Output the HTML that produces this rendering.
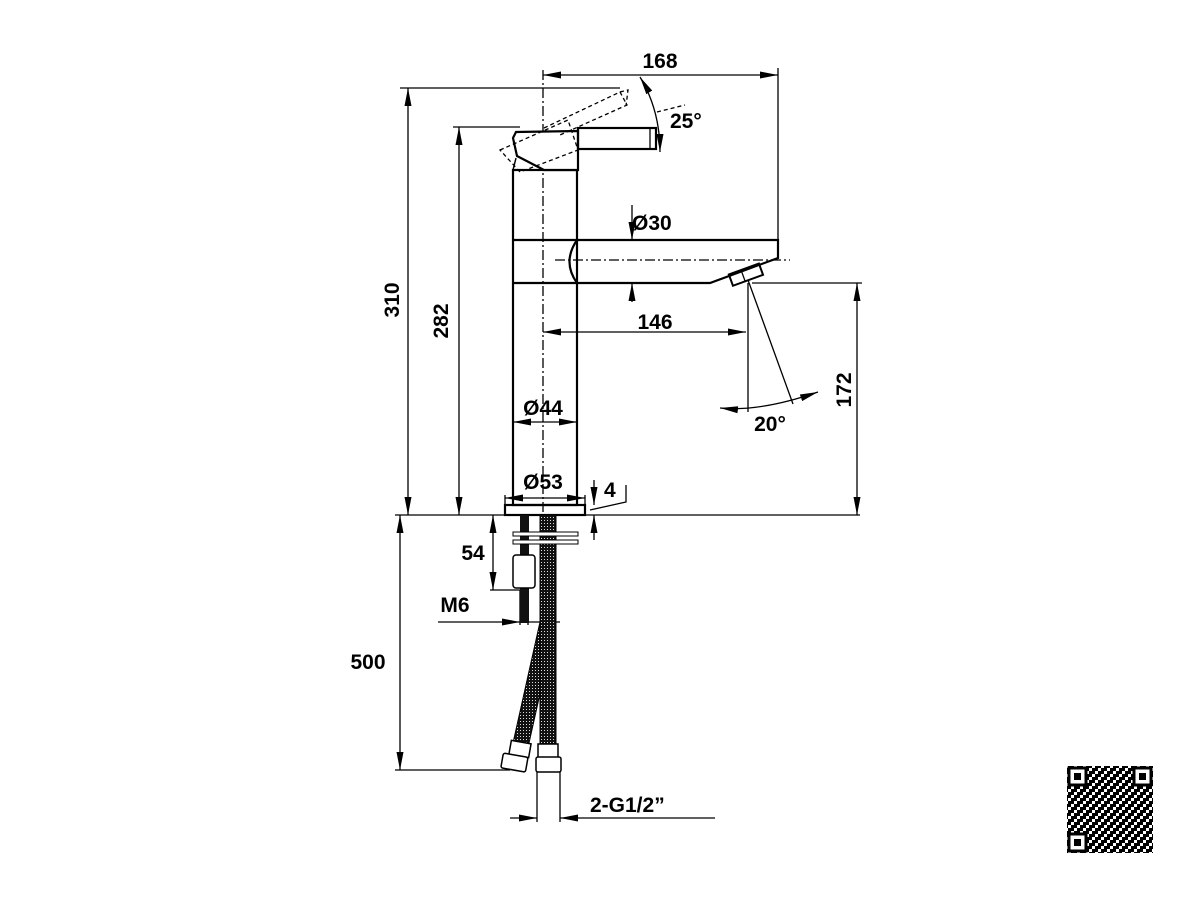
<!DOCTYPE html>
<html><head><meta charset="utf-8"><style>html,body{margin:0;padding:0;background:#fff}svg{display:block}text{font-family:"Liberation Sans",sans-serif;font-weight:bold;font-size:21px;fill:#000}</style></head>
<body>
<svg width="1200" height="900" viewBox="0 0 1200 900" xmlns="http://www.w3.org/2000/svg">
<defs>
<marker id="a" viewBox="0 0 18 8" refX="18" refY="4" markerWidth="18" markerHeight="8" markerUnits="userSpaceOnUse" orient="auto-start-reverse"><path d="M0,0.5 L18,4 L0,7.5 z" fill="#000"/></marker>
<pattern id="h" width="3" height="3" patternUnits="userSpaceOnUse"><rect width="3" height="3" fill="#111"/><rect x="1" y="1" width="1" height="1" fill="#ddd"/></pattern>
<pattern id="q" width="9" height="9" patternUnits="userSpaceOnUse"><rect width="9" height="9" fill="#fff"/><rect x="0" y="0" width="3" height="3" fill="#000"/><rect x="6" y="0" width="3" height="6" fill="#000"/><rect x="3" y="3" width="3" height="3" fill="#000"/><rect x="0" y="6" width="6" height="3" fill="#000"/></pattern>
</defs>
<g fill="none" stroke="#000" stroke-width="1.3">
<line x1="543" y1="70" x2="543" y2="515" stroke-dasharray="10,3,2,3"/>
<rect x="513" y="170" width="64" height="335" stroke-width="2.2"/>
<line x1="513" y1="240" x2="577" y2="240" stroke-width="2.2"/>
<line x1="513" y1="283" x2="577" y2="283" stroke-width="2.2"/>
<path d="M513,138 L516,132 L578,131 L578,170 L544,170 L517,156 Z" stroke-width="2.2" fill="#fff"/>
<path d="M516,158 L513,170" stroke-width="1.5"/>
<rect x="578" y="128" width="78" height="21" stroke-width="2.2"/>
<line x1="650" y1="128" x2="650" y2="149"/>
<g stroke-dasharray="4,3">
<path d="M500,150 L568,120 L578,150 L520,172 Z"/>
<path d="M544,128 L620,92 L627,105 L560,135"/>
<path d="M620,92 L628,90 L626,106"/>
</g>
<path d="M577,240 L778,240 L778,258 L710,283 L577,283" stroke-width="2.2"/>
<path d="M577,240 Q562,262 577,283" stroke-width="2.2"/>
<line x1="555" y1="260" x2="790" y2="260" stroke-dasharray="10,3,2,3"/>
<g transform="rotate(-20 745 275)"><rect x="730" y="269" width="32" height="12" stroke-width="2"/><line x1="743" y1="269" x2="743" y2="281"/></g>
<rect x="505" y="505" width="80" height="10" stroke-width="2.2"/>
<line x1="395" y1="515" x2="860" y2="515"/>
<line x1="400" y1="88" x2="620" y2="88"/>
<line x1="408" y1="88" x2="408" y2="515" marker-start="url(#a)" marker-end="url(#a)"/>
<line x1="453" y1="127" x2="520" y2="127"/>
<line x1="459" y1="127" x2="459" y2="515" marker-start="url(#a)" marker-end="url(#a)"/>
<line x1="543" y1="75" x2="778" y2="75" marker-start="url(#a)" marker-end="url(#a)"/>
<line x1="778" y1="68" x2="778" y2="240"/>
<path d="M640,77 Q660,110 660,152" marker-start="url(#a)" marker-end="url(#a)"/>
<line x1="657" y1="112" x2="685" y2="105" stroke-dasharray="4,3"/>
<line x1="632" y1="205" x2="632" y2="240" marker-end="url(#a)"/>
<line x1="632" y1="302" x2="632" y2="283" marker-end="url(#a)"/>
<line x1="543" y1="332" x2="746" y2="332" marker-start="url(#a)" marker-end="url(#a)"/>
<line x1="748" y1="283" x2="748" y2="412"/>
<line x1="752" y1="283" x2="862" y2="283"/>
<line x1="857" y1="283" x2="857" y2="515" marker-start="url(#a)" marker-end="url(#a)"/>
<line x1="748" y1="280" x2="793" y2="404"/>
<path d="M720,408 Q760,412 818,392" marker-start="url(#a)" marker-end="url(#a)"/>
<line x1="513" y1="422" x2="577" y2="422" marker-start="url(#a)" marker-end="url(#a)"/>
<line x1="505" y1="495" x2="505" y2="505"/><line x1="585" y1="495" x2="585" y2="505"/>
<line x1="505" y1="498" x2="585" y2="498" marker-start="url(#a)" marker-end="url(#a)"/>
<line x1="594" y1="480" x2="594" y2="505" marker-end="url(#a)"/>
<line x1="594" y1="540" x2="594" y2="515" marker-end="url(#a)"/>
<path d="M590,510 L626,502 L626,485"/>
<line x1="395" y1="770" x2="510" y2="770"/>
<line x1="400" y1="515" x2="400" y2="770" marker-start="url(#a)" marker-end="url(#a)"/>
<line x1="493" y1="515" x2="493" y2="590" marker-start="url(#a)" marker-end="url(#a)"/>
<line x1="490" y1="590" x2="528" y2="590"/>
<line x1="520" y1="590" x2="520" y2="625"/><line x1="528" y1="590" x2="528" y2="625"/>
<line x1="438" y1="622" x2="520" y2="622" marker-end="url(#a)"/>
<line x1="528" y1="622" x2="560" y2="622"/>
<line x1="537" y1="770" x2="537" y2="822"/><line x1="560" y1="770" x2="560" y2="822"/>
<line x1="510" y1="818" x2="537" y2="818" marker-end="url(#a)"/>
<line x1="715" y1="818" x2="560" y2="818" marker-end="url(#a)"/>
</g>
<rect x="520" y="515" width="9" height="108" fill="#111"/>
<path d="M540,622 L556,622 L527,752 L511,752 Z" fill="url(#h)" stroke="#000"/>
<rect x="540" y="515" width="16" height="240" fill="url(#h)" stroke="#000"/>
<rect x="513" y="532" width="65" height="4" fill="#fff" stroke="#000"/>
<rect x="513" y="540" width="65" height="4" fill="#fff" stroke="#000"/>
<rect x="513" y="555" width="22" height="33" rx="3" fill="#fff" stroke="#000" stroke-width="1.5"/>
<g fill="#fff" stroke="#000" stroke-width="1.5">
<rect x="538" y="744" width="20" height="14"/>
<rect x="536" y="757" width="25" height="15" rx="2"/>
<rect x="510" y="742" width="20" height="14" transform="rotate(10 520 749)"/>
<rect x="502" y="755" width="25" height="15" rx="2" transform="rotate(10 514 762)"/>
</g>
<text x="660" y="68" text-anchor="middle">168</text>
<text x="670" y="128">25°</text>
<text x="632" y="230">Ø30</text>
<text x="655" y="329" text-anchor="middle">146</text>
<text x="770" y="431" text-anchor="middle">20°</text>
<text x="543" y="415" text-anchor="middle">Ø44</text>
<text x="543" y="489" text-anchor="middle">Ø53</text>
<text x="604" y="497">4</text>
<text x="473" y="560" text-anchor="middle">54</text>
<text x="455" y="612" text-anchor="middle">M6</text>
<text x="368" y="669" text-anchor="middle">500</text>
<text x="590" y="812">2-G1/2”</text>
<text transform="translate(399,300) rotate(-90)" text-anchor="middle">310</text>
<text transform="translate(448,321) rotate(-90)" text-anchor="middle">282</text>
<text transform="translate(851,390) rotate(-90)" text-anchor="middle">172</text>
<rect x="1067" y="766" width="86" height="87" fill="url(#q)"/>
<g fill="#fff" stroke="#000" stroke-width="3">
<rect x="1069" y="768" width="17" height="17"/><rect x="1134" y="768" width="17" height="17"/><rect x="1069" y="834" width="17" height="17"/>
</g>
<g fill="#000"><rect x="1074" y="773" width="7" height="7"/><rect x="1139" y="773" width="7" height="7"/><rect x="1074" y="839" width="7" height="7"/></g>
</svg>
</body></html>
